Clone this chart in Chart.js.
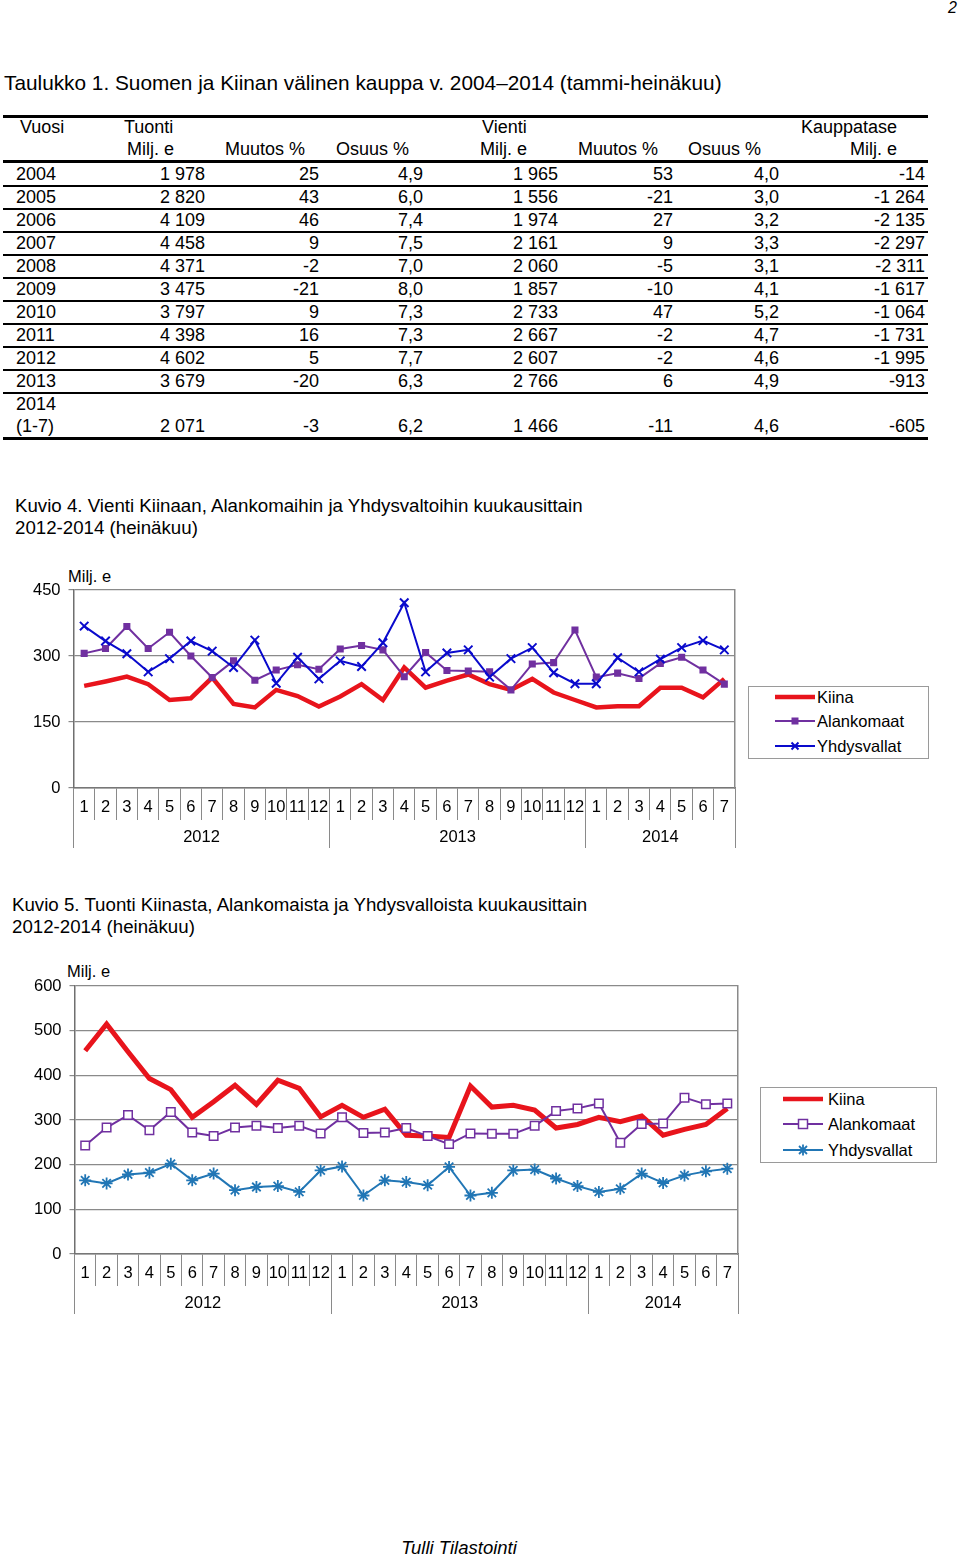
<!DOCTYPE html>
<html lang="fi">
<head>
<meta charset="utf-8">
<title>Suomen ja Kiinan välinen kauppa</title>
<script src="https://cdn.jsdelivr.net/npm/chart.js@4.4.1/dist/chart.umd.min.js"></script>
<style>
  body { margin: 0; width: 960px; height: 1558px; position: relative; background: #fff;
         font-family: "Liberation Sans", Arial, sans-serif; color: #000; overflow: hidden; }
  .t { position: absolute; white-space: nowrap; height: 22px; line-height: 22px; }
  .rule { position: absolute; left: 3px; width: 925px; background: #000; }
  canvas { position: absolute; left: 0; }
  .legend { position: absolute; border: 1px solid #9a9a9a; background: #fff; box-sizing: border-box; }
  .legend .item { position: absolute; height: 22px; line-height: 22px; font-size: 16.5px; white-space: nowrap; }
  .legend svg { position: absolute; }
</style>
</head>
<body>

<div class="t" style="right:3px; top:-3px; font-size:16px; font-style:italic;">2</div>
<div class="t" style="left:4px; top:72px; font-size:20.8px;">Taulukko 1. Suomen ja Kiinan välinen kauppa v. 2004–2014 (tammi-heinäkuu)</div>
<div id="table"></div>

<div class="t" style="left:15px; top:495px; font-size:18.7px;">Kuvio 4. Vienti Kiinaan, Alankomaihin ja Yhdysvaltoihin kuukausittain</div>
<div class="t" style="left:15px; top:517px; font-size:18.7px;">2012-2014 (heinäkuu)</div>
<div class="t" style="left:68px; top:565px; font-size:16.5px;">Milj. e</div>
<canvas id="vienti" width="960" height="295" style="top:560px;"></canvas>
<div class="legend" id="legend1" style="left:748px; top:686px; width:181px; height:73px;"></div>

<div class="t" style="left:12px; top:894px; font-size:18.7px;">Kuvio 5. Tuonti Kiinasta, Alankomaista ja Yhdysvalloista kuukausittain</div>
<div class="t" style="left:12px; top:916px; font-size:18.7px;">2012-2014 (heinäkuu)</div>
<div class="t" style="left:67px; top:960px; font-size:16.5px;">Milj. e</div>
<canvas id="tuonti" width="960" height="365" style="top:955px;"></canvas>
<div class="legend" id="legend2" style="left:760px; top:1087px; width:177px; height:76px;"></div>

<div class="t" style="left:0; width:918px; text-align:center; top:1537px; font-size:18.5px; font-style:italic;">Tulli Tilastointi</div>

<script>
// Taulukko 1
const years = ['2004', '2005', '2006', '2007', '2008', '2009', '2010', '2011', '2012', '2013', '2014'];
const importValue = [1978, 2820, 4109, 4458, 4371, 3475, 3797, 4398, 4602, 3679, 2071];
const importChange = [25, 43, 46, 9, -2, -21, 9, 16, 5, -20, -3];
const importShare = [4.9, 6.0, 7.4, 7.5, 7.0, 8.0, 7.3, 7.3, 7.7, 6.3, 6.2];
const exportValue = [1965, 1556, 1974, 2161, 2060, 1857, 2733, 2667, 2607, 2766, 1466];
const exportChange = [53, -21, 27, 9, -5, -10, 47, -2, -2, 6, -11];
const exportShare = [4.0, 3.0, 3.2, 3.3, 3.1, 4.1, 5.2, 4.7, 4.6, 4.9, 4.6];
const tradeBalance = [-14, -1264, -2135, -2297, -2311, -1617, -1064, -1731, -1995, -913, -605];

// Kuviot: kuukaudet 2012/1 - 2014/7
const monthLabels = ['1', '2', '3', '4', '5', '6', '7', '8', '9', '10', '11', '12',
  '1', '2', '3', '4', '5', '6', '7', '8', '9', '10', '11', '12',
  '1', '2', '3', '4', '5', '6', '7'];
const yearLabels = ['2012', '2013', '2014'];
const yearMonths = [12, 12, 7];

const vientiKiina = [232, 242, 253, 236, 200, 204, 251, 191, 183, 223, 209, 185,
  208, 236, 200, 274, 228, 244, 258, 236, 223, 248, 217, 200, 183, 186, 186, 228, 228, 206, 248];
const vientiAlankomaat = [306, 317, 367, 317, 354, 300, 251, 289, 245, 268, 280, 270,
  316, 324, 314, 253, 308, 267, 266, 264, 223, 282, 285, 359, 252, 261, 249, 283, 297, 268, 236];
const vientiYhdysvallat = [368, 334, 305, 264, 294, 334, 311, 274, 336, 238, 297, 248,
  289, 276, 330, 421, 264, 307, 314, 252, 294, 319, 262, 237, 237, 296, 264, 293, 319, 335, 314];

const tuontiKiina = [455, 515, 453, 393, 368, 306, 341, 378, 335, 389, 371, 307,
  333, 306, 324, 266, 264, 261, 376, 329, 333, 322, 282, 290, 306, 296, 309, 266, 279, 290, 326];
const tuontiAlankomaat = [243, 283, 311, 277, 318, 272, 264, 283, 287, 282, 287, 270,
  306, 271, 272, 282, 264, 246, 270, 269, 269, 287, 320, 326, 337, 249, 291, 292, 350, 335, 337];
const tuontiYhdysvallat = [165, 158, 178, 182, 202, 165, 180, 143, 150, 152, 139, 187,
  196, 131, 165, 161, 154, 195, 131, 137, 187, 189, 169, 152, 139, 146, 180, 159, 176, 185, 191];

const seriesNames = ['Kiina', 'Alankomaat', 'Yhdysvallat'];

const RED = '#e8141c';
const PURPLE = '#7030a0';
const BLUE1 = '#0a0acc';
const BLUE2 = '#2176b5';

// ---------- table ----------
const fmtInt = n => (n < 0 ? '-' : '') + String(Math.abs(n)).replace(/\B(?=(\d{3})+(?!\d))/g, '\u00a0');
const fmtDec = n => n.toFixed(1).replace('.', ',');

const table = document.getElementById('table');
const text = (str, x, y, align = 'left') => {
  const d = document.createElement('div');
  d.className = 't';
  d.style.fontSize = '18px';
  d.style.top = `${y - 11}px`;
  if (align == 'right') d.style.right = `${960 - x}px`;
  else d.style.left = `${x}px`;
  d.textContent = str;
  table.appendChild(d);
};
const rule = (y, h) => {
  const d = document.createElement('div');
  d.className = 'rule';
  d.style.top = `${y - h / 2}px`;
  d.style.height = `${h}px`;
  table.appendChild(d);
};

text('Vuosi', 20, 127);
text('Tuonti', 124, 127);
text('Milj. e', 127, 149);
text('Muutos %', 225, 149);
text('Osuus %', 336, 149);
text('Vienti', 482, 127);
text('Milj. e', 480, 149);
text('Muutos %', 578, 149);
text('Osuus %', 688, 149);
text('Kauppatase', 897, 127, 'right');
text('Milj. e', 897, 149, 'right');

const colRights = [205, 319, 423, 558, 673, 779, 925];
years.forEach((year, i) => {
  const last = i == years.length - 1;
  const y = last ? 426 : 174 + 23 * i;
  if (last) {
    text(year, 16, 404);
    text('(1-7)', 16, 426);
  } else {
    text(year, 16, y);
  }
  const cells = [fmtInt(importValue[i]), String(importChange[i]), fmtDec(importShare[i]),
    fmtInt(exportValue[i]), String(exportChange[i]), fmtDec(exportShare[i]), fmtInt(tradeBalance[i])];
  cells.forEach((c, j) => text(c, colRights[j], y, 'right'));
});

rule(116, 3);
rule(161.5, 3);
for (let i = 0; i < 10; i++) rule(185.5 + 23 * i, 2);
rule(438.5, 3);

// ---------- legends ----------
const legendGlyph = (kind, color) => {
  const line = `<line x1="0" y1="6" x2="40" y2="6" stroke="${color}" stroke-width="${kind == 'thick' ? 4.5 : 2}"/>`;
  let mark = '';
  if (kind == 'square') mark = `<rect x="16.5" y="2.5" width="7" height="7" fill="${color}"/>`;
  if (kind == 'openSquare') mark = `<rect x="15.5" y="1.5" width="9" height="9" fill="#fff" stroke="${color}" stroke-width="1.5"/>`;
  if (kind == 'x') mark = `<path d="M16.5 2.5 L23.5 9.5 M23.5 2.5 L16.5 9.5" stroke="${color}" stroke-width="2"/>`;
  if (kind == 'star') mark = `<path d="M14.5 6 L25.5 6 M20 0.5 L20 11.5 M16 2 L24 10 M24 2 L16 10" stroke="${color}" stroke-width="1.8"/>`;
  return `<svg width="40" height="12" viewBox="0 0 40 12">${line}${mark}</svg>`;
};

const buildLegend = (id, items, rows, glyphLeft, textLeft) => {
  const box = document.getElementById(id);
  items.forEach(([name, kind, color], i) => {
    const g = document.createElement('div');
    g.innerHTML = legendGlyph(kind, color);
    const svg = g.firstChild;
    svg.style.left = `${glyphLeft}px`;
    svg.style.top = `${rows[i] - 6}px`;
    box.appendChild(svg);
    const t = document.createElement('div');
    t.className = 'item';
    t.style.left = `${textLeft}px`;
    t.style.top = `${rows[i] - 11}px`;
    t.textContent = name;
    box.appendChild(t);
  });
};

buildLegend('legend1', [
  [seriesNames[0], 'thick', RED],
  [seriesNames[1], 'square', PURPLE],
  [seriesNames[2], 'x', BLUE1],
], [10, 34, 59], 26, 68);

buildLegend('legend2', [
  [seriesNames[0], 'thick', RED],
  [seriesNames[1], 'openSquare', PURPLE],
  [seriesNames[2], 'star', BLUE2],
], [11, 36, 62], 22, 67);

// ---------- charts ----------
Chart.defaults.font.family = '"Liberation Sans", Arial, sans-serif';
Chart.defaults.font.size = 16.5;
Chart.defaults.color = '#000';

// year boundaries and centres on the month index scale
const yearBounds = [-0.5];
const yearCentres = [];
yearMonths.forEach(n => {
  const start = yearBounds[yearBounds.length - 1];
  yearCentres.push(start + n / 2);
  yearBounds.push(start + n);
});

const buildChart = (canvasId, { datasets, max, step, padding, yWidth }) => {
  new Chart(document.getElementById(canvasId), {
    type: 'line',
    data: { labels: monthLabels, datasets },
    options: {
      responsive: false,
      animation: false,
      layout: { padding },
      plugins: { legend: { display: false }, tooltip: { enabled: false } },
      scales: {
        x: {
          type: 'category',
          weight: 0,
          offset: true,
          grid: { offset: true, drawOnChartArea: false, tickLength: 32, color: '#8a8a8a', lineWidth: 1 },
          border: { color: '#777', width: 1.5 },
          ticks: { padding: -22, autoSkip: false, maxRotation: 0 },
          afterFit: s => { s.height = 32; },
        },
        years: {
          type: 'linear',
          position: 'bottom',
          weight: 1,
          min: yearBounds[0],
          max: yearBounds[yearBounds.length - 1],
          afterBuildTicks: s => {
            s.ticks = [...yearBounds, ...yearCentres].sort((a, b) => a - b).map(v => ({ value: v }));
          },
          grid: {
            drawOnChartArea: false,
            tickLength: 28,
            color: ctx => (ctx.tick && yearBounds.includes(ctx.tick.value) ? '#8a8a8a' : 'rgba(0,0,0,0)'),
          },
          border: { display: false },
          ticks: {
            padding: -20,
            autoSkip: false,
            maxRotation: 0,
            callback: v => {
              const k = yearCentres.indexOf(v);
              return k >= 0 ? yearLabels[k] : '';
            },
          },
          afterFit: s => { s.height = 30; },
        },
        y: {
          min: 0,
          max,
          ticks: { stepSize: step, padding: 8 },
          grid: { color: '#8a8a8a', lineWidth: 1.2, tickLength: 5 },
          border: { color: '#6f6f6f', width: 1.5 },
          afterFit: s => { s.width = yWidth; },
        },
        frame: {
          position: 'right',
          grid: { display: false },
          ticks: { display: false },
          border: { color: '#8a8a8a', width: 1.5 },
          afterFit: s => { s.width = 0; },
        },
      },
    },
  });
};

buildChart('vienti', {
  max: 450,
  step: 150,
  yWidth: 73.5,
  padding: { top: 30, right: 225, bottom: 5, left: 0 },
  datasets: [
    { label: seriesNames[0], data: vientiKiina, borderColor: RED, borderWidth: 4.5, pointRadius: 0, order: 3 },
    { label: seriesNames[1], data: vientiAlankomaat, borderColor: PURPLE, borderWidth: 2,
      pointStyle: 'rect', pointRadius: 5, backgroundColor: PURPLE, pointBorderWidth: 0, order: 2 },
    { label: seriesNames[2], data: vientiYhdysvallat, borderColor: BLUE1, borderWidth: 2,
      pointStyle: 'crossRot', pointRadius: 6, pointBorderWidth: 2, order: 1 },
  ],
});

buildChart('tuonti', {
  max: 600,
  step: 100,
  yWidth: 74.5,
  padding: { top: 31, right: 222, bottom: 4, left: 0 },
  datasets: [
    { label: seriesNames[0], data: tuontiKiina, borderColor: RED, borderWidth: 5, pointRadius: 0, order: 3 },
    { label: seriesNames[1], data: tuontiAlankomaat, borderColor: PURPLE, borderWidth: 2,
      pointStyle: 'rect', pointRadius: 6, backgroundColor: '#fff', pointBorderWidth: 1.5, order: 2 },
    { label: seriesNames[2], data: tuontiYhdysvallat, borderColor: BLUE2, borderWidth: 2,
      pointStyle: 'star', pointRadius: 6, pointBorderWidth: 1.8, order: 1 },
  ],
});
</script>
</body>
</html>
